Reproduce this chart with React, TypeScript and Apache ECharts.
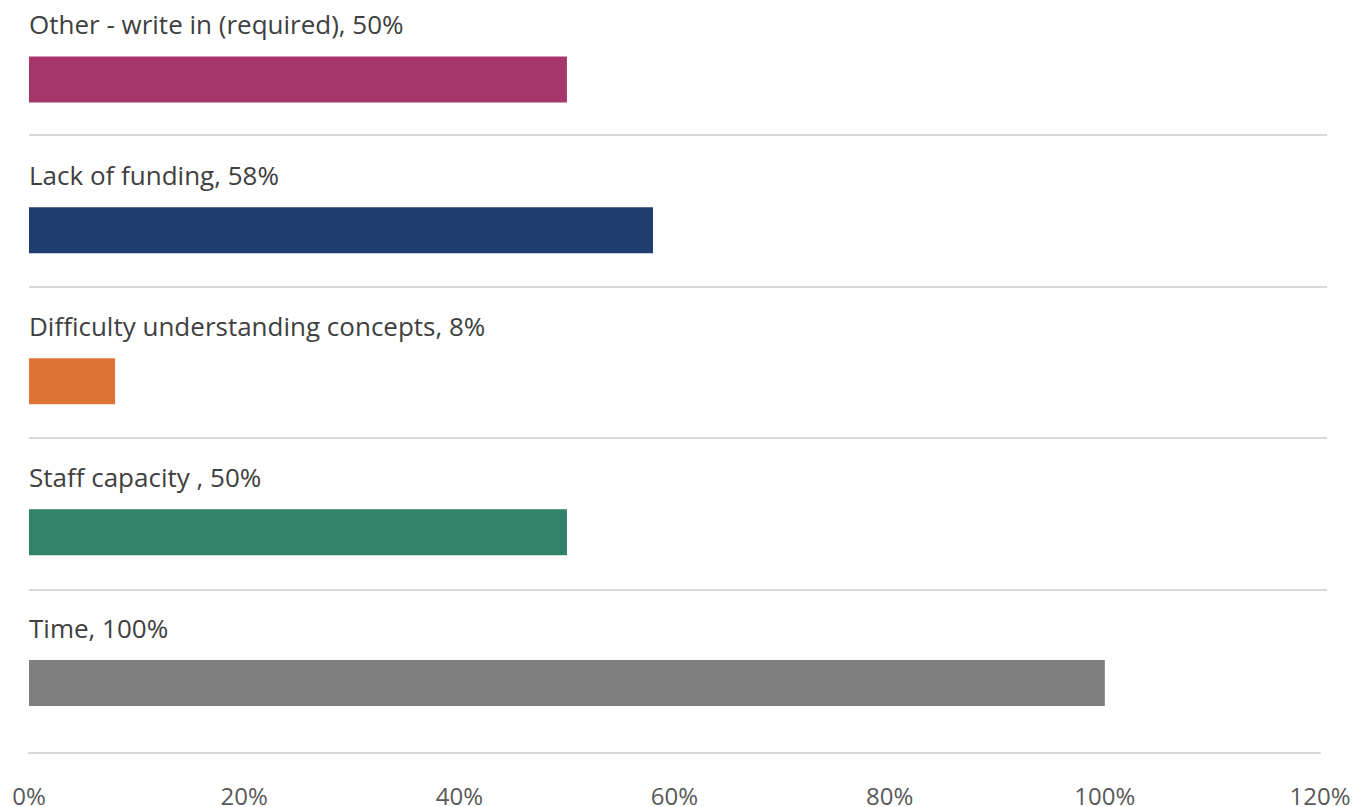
import React, { useEffect, useRef } from "react";
import * as echarts from "echarts";

const categories = [
  "Other - write in (required)",
  "Lack of funding",
  "Difficulty understanding concepts",
  "Staff capacity ",
  "Time",
];
const values = [50, 58, 8, 50, 100];
const barColors = ["#A5366A", "#1F3D6F", "#DD7334", "#31826A", "#7F7F7F"];
const xTicks = { min: 0, max: 120, interval: 20 };

export default function App() {
  const ref = useRef<HTMLDivElement>(null);
  useEffect(() => {
    if (!ref.current) return;
    const chart = echarts.init(ref.current, undefined, { renderer: "svg" });
    chart.setOption({
      animation: false,
      textStyle: { fontFamily: "Open Sans" },
      grid: [
        { left: 29, right: 36, top: 4, height: 754.5 },
        { left: 29, right: 29, top: 135, height: 454.5 },
      ],
      xAxis: [
        {
          gridIndex: 0,
          type: "value",
          min: xTicks.min,
          max: xTicks.max,
          interval: xTicks.interval,
          offset: -5.5,
          axisLine: { show: true, lineStyle: { color: "#D9D9D9", width: 2 } },
          axisTick: { show: false },
          splitLine: { show: false },
          axisLabel: {
            formatter: "{value}%",
            fontSize: 24,
            lineHeight: 20,
            color: "#595959",
            margin: 32,
            fontFamily: "Open Sans",
          },
        },
        {
          gridIndex: 1,
          type: "value",
          min: 0,
          max: 1,
          show: false,
        },
      ],
      yAxis: [
        {
          gridIndex: 0,
          type: "category",
          data: categories,
          inverse: true,
          show: false,
        },
        {
          gridIndex: 1,
          type: "value",
          min: 0,
          max: 3,
          interval: 1,
          axisLine: { show: false },
          axisTick: { show: false },
          axisLabel: { show: false },
          splitLine: { show: true, lineStyle: { color: "#D9D9D9", width: 2 } },
        },
      ],
      series: [
        {
          type: "bar",
          xAxisIndex: 0,
          yAxisIndex: 0,
          barWidth: 46,
          data: values.map((v, i) => ({ value: v, itemStyle: { color: barColors[i] } })),
          label: {
            show: true,
            position: [0, -32],
            align: "left",
            verticalAlign: "middle",
            formatter: "{b}, {c}%",
            fontSize: 26,
            color: "#404040",
            fontFamily: "Open Sans",
          },
        },
      ],
    });
    return () => chart.dispose();
  }, []);
  return (
    <div
      ref={ref}
      style={{ position: "fixed", left: 0, top: 0, width: 1356, height: 807, background: "#fff" }}
    />
  );
}
